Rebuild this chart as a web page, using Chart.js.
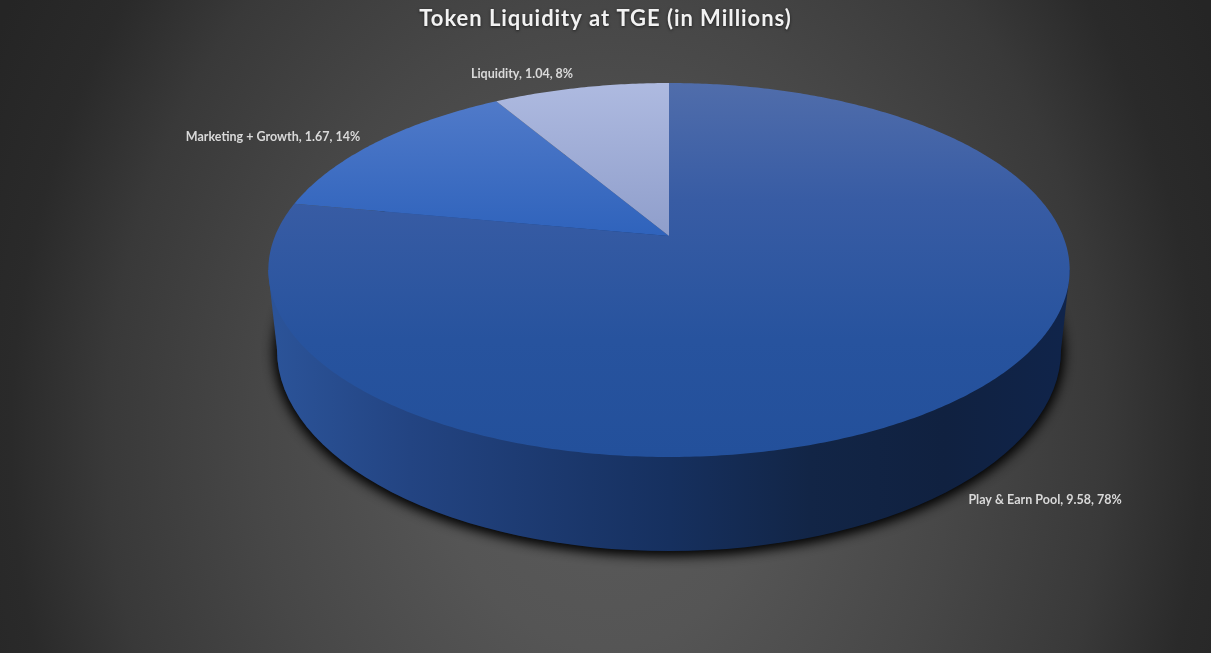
<!DOCTYPE html>
<html>
<head>
<meta charset="utf-8">
<title>Token Liquidity at TGE</title>
<script src="https://cdn.jsdelivr.net/npm/chart.js@4"></script>
<style>
  html, body { margin: 0; padding: 0; width: 1211px; height: 653px; overflow: hidden; }
  body { background: radial-gradient(ellipse 640px 800px at 606px 440px, #5a5a5a 0%, #555555 26%, #474747 54%, #393939 78%, #2a2a2a 93%, #252525 108%); }
  canvas { display: block; }
</style>
</head>
<body>
<canvas id="pie3d" width="1211" height="653"></canvas>
<script>
// data
const categories = ['Play & Earn Pool', 'Marketing + Growth', 'Liquidity'];
const tokenValues = [9.58, 1.67, 1.04];
const chartTitle = 'Token Liquidity at TGE (in Millions)';

// top face gradients, one per slice (top to bottom on screen)
const sliceFills = [
  [[83, '#506dab'], [200, '#385ca4'], [340, '#27539e'], [457, '#23509b']],
  [[101, '#507ac9'], [236, '#2f63bc']],
  [[83, '#aebae0'], [236, '#8f9ecb']]
];
// where each data label sits (centre of text)
const labelSpots = [[1045, 500], [273, 137], [522, 74]];

// perspective of the disc: unit circle -> screen
const disc = { x: 669, y: 236, a: 394, b: 180.8, k: 0.1818 };
const wall = { x: 669, y: 350, rx: 392, ry: 201 };

function project(angle) {
  const u = Math.cos(angle), v = Math.sin(angle);
  const w = 1 - disc.k * v;
  return [disc.x + disc.a * u / w, disc.y + disc.b * v / w];
}

function traceSlice(ctx, start, end) {
  const steps = Math.max(8, Math.ceil((end - start) * 90));
  ctx.beginPath();
  ctx.moveTo(disc.x, disc.y);
  for (let i = 0; i <= steps; i++) {
    const p = project(start + (end - start) * i / steps);
    ctx.lineTo(p[0], p[1]);
  }
  ctx.closePath();
}

function drawWall(ctx) {
  const g = ctx.createLinearGradient(277, 0, 1062, 0);
  g.addColorStop(0, '#2b5398');
  g.addColorStop(0.17, '#234482');
  g.addColorStop(0.5, '#16305f');
  g.addColorStop(0.68, '#122546');
  g.addColorStop(0.85, '#102140');
  g.addColorStop(1, '#10244a');
  ctx.save();
  ctx.shadowColor = 'rgba(0,0,0,0.95)';
  ctx.shadowBlur = 14;
  ctx.shadowOffsetY = 2;
  ctx.fillStyle = g;
  ctx.beginPath();
  ctx.ellipse(wall.x, wall.y, wall.rx, wall.ry, 0, 0, Math.PI * 2);
  ctx.fill();
  ctx.fill(); // twice, one pass of the shadow is too faint
  ctx.restore();
  // sides between the disc edge and the bottom ellipse
  ctx.fillStyle = g;
  ctx.beginPath();
  ctx.moveTo(268, 270);
  ctx.lineTo(277, 350);
  ctx.lineTo(1061, 350);
  ctx.lineTo(1070, 270);
  ctx.closePath();
  ctx.fill();
}

const pie3dPlugin = {
  id: 'pie3d',
  beforeDraw(chart) {
    // picked up by the title box, which draws right after this
    const ctx = chart.ctx;
    ctx.shadowColor = 'rgba(0,0,0,0.6)';
    ctx.shadowBlur = 3;
    ctx.shadowOffsetY = 1;
    ctx.letterSpacing = '0.95px';
  },
  beforeDatasetsDraw(chart) {
    const ctx = chart.ctx;
    ctx.shadowColor = 'transparent';
    ctx.shadowBlur = 0;
    ctx.shadowOffsetY = 0;
    ctx.letterSpacing = '0px';
    drawWall(ctx);
    chart.getDatasetMeta(0).data.forEach((arc, i) => {
      const stops = sliceFills[i];
      const g = ctx.createLinearGradient(0, stops[0][0], 0, stops[stops.length - 1][0]);
      const span = stops[stops.length - 1][0] - stops[0][0];
      stops.forEach(s => g.addColorStop((s[0] - stops[0][0]) / span, s[1]));
      traceSlice(ctx, arc.startAngle, arc.endAngle);
      ctx.fillStyle = g;
      ctx.fill();
    });
    return false; // slices are done, skip the flat ones
  },
  afterDraw(chart) {
    const ctx = chart.ctx;
    const total = tokenValues.reduce((a, b) => a + b, 0);
    ctx.save();
    ctx.font = 'bold 12.5px Lato';
    ctx.fillStyle = '#d9d9d9';
    ctx.textAlign = 'center';
    ctx.textBaseline = 'middle';
    categories.forEach((name, i) => {
      const pct = Math.round(tokenValues[i] / total * 100);
      ctx.fillText(name + ', ' + tokenValues[i] + ', ' + pct + '%', labelSpots[i][0], labelSpots[i][1]);
    });
    ctx.restore();
  }
};

new Chart(document.getElementById('pie3d'), {
  type: 'pie',
  data: {
    labels: categories,
    datasets: [{ label: 'Tokens', data: tokenValues, borderWidth: 0 }]
  },
  options: {
    responsive: false,
    animation: false,
    layout: { padding: 0 },
    plugins: {
      legend: { display: false },
      tooltip: { enabled: false },
      title: {
        display: true,
        text: chartTitle,
        color: '#f2f2f2',
        font: { family: 'Lato', size: 22, weight: 'bold' },
        padding: { top: 6, bottom: 4 }
      }
    }
  },
  plugins: [pie3dPlugin]
});
</script>
</body>
</html>
